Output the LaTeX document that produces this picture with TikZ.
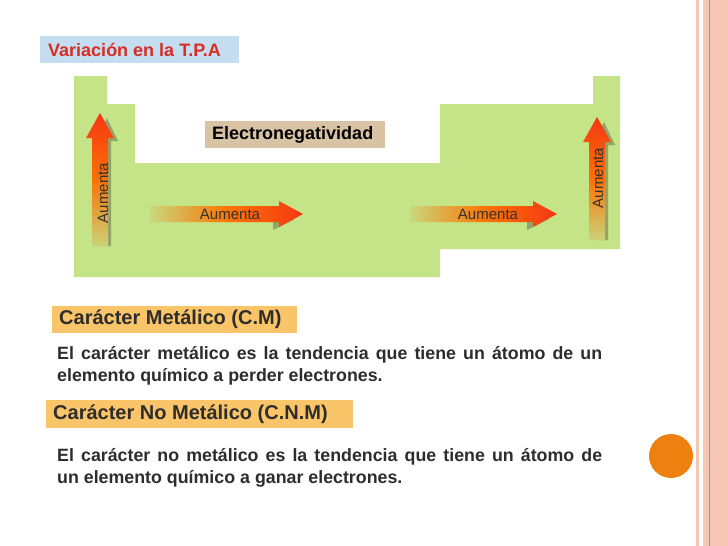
\documentclass[tikz,border=0pt]{standalone}
\usepackage{fontspec}
\setmainfont{Liberation Sans}
\usetikzlibrary{shadings}
\definecolor{tgreen}{RGB}{197,227,135}
\definecolor{tan}{RGB}{217,195,165}
\definecolor{tblue}{RGB}{197,221,240}
\definecolor{torange}{RGB}{250,196,105}
\definecolor{tpink}{RGB}{245,198,180}
\definecolor{tline}{RGB}{236,130,60}
\definecolor{tcirc}{RGB}{238,128,16}
\definecolor{ttxt}{RGB}{45,45,45}
\definecolor{tred}{RGB}{215,45,35}
\definecolor{ayel}{RGB}{205,200,110}
\definecolor{ared}{RGB}{245,55,20}
\tikzset{
  lbl/.style={font=\bfseries\fontsize{18}{20}\selectfont, inner sep=0pt, anchor=west},
  para/.style={font=\bfseries\fontsize{17.8}{22}\selectfont, text=ttxt, text width=545pt, align=justify, inner sep=0pt, anchor=north west},
  arrtxt/.style={font=\fontsize{15}{16}\selectfont, text=black!80, inner sep=0pt}
}
\begin{document}
\begin{tikzpicture}[x=1pt,y=-1pt]
\useasboundingbox (0,0) rectangle (728,546);
\fill[white] (0,0) rectangle (728,546);
% right border
\fill[tpink] (696,0) rectangle (699,546);
\fill[tpink] (703,0) rectangle (728,546);
\draw[tline, line width=0.8pt] (709,0) -- (709,546);
\fill[tcirc] (671,456) circle (22);
% table
\fill[tgreen] (74,76) -- (107,76) -- (107,104) -- (135,104) -- (135,163) -- (440,163) -- (440,104) -- (593,104) -- (593,76) -- (620,76) -- (620,249) -- (440,249) -- (440,277) -- (74,277) -- cycle;
\node[fill=tan, minimum width=180pt, minimum height=27pt, anchor=north west, inner sep=0pt] (en) at (205,121) {};
\node[lbl, text=black] at (212,134.5) {Electronegatividad};
% vertical arrows (shadow then arrow)
\foreach \x/\yb/\yt/\nm in {100/246/113/l, 597/240/117/r}{
  \fill[black!25!tgreen!85!gray] (\x+3,\yb) -- (\x+3,\yt+28) -- (\x-4,\yt+28) -- (\x+7,\yt+5) -- (\x+18,\yt+28) -- (\x+11,\yt+28) -- (\x+11,\yb) -- cycle;
  \shade[top color=ared, bottom color=ayel!60!tgreen, middle color=orange!80!ared] (\x-8,\yb) -- (\x-8,\yt+25) -- (\x-14,\yt+25) -- (\x,\yt) -- (\x+14,\yt+25) -- (\x+8,\yt+25) -- (\x+8,\yb) -- cycle;
}
\node[arrtxt, rotate=90] (al) at (103,193) {Aumenta};
\node[arrtxt, rotate=90] (ar) at (598,178) {Aumenta};
% horizontal arrows
\foreach \xa/\xb in {150/303, 410/557}{
  \fill[black!25!tgreen!85!gray] (\xa+10,219) -- (\xb-30,219) -- (\xb-30,230) -- (\xb-8,219) -- (\xb-18,211) -- cycle;
  \shade[left color=ayel!40!tgreen, right color=ared, middle color=orange!85!ared] (\xa,206) -- (\xb-24,206) -- (\xb-24,201) -- (\xb,214) -- (\xb-24,227) -- (\xb-24,222) -- (\xa,222) -- cycle;
}
\node[arrtxt] (h1) at (230,214) {Aumenta};
\node[arrtxt] (h2) at (488,214) {Aumenta};
% title boxes
\node[fill=tblue, minimum width=199pt, minimum height=27pt, anchor=north west, inner sep=0pt] (tb) at (40,36) {};
\node[lbl, text=tred] at (48,49.5) {Variación en la T.P.A};
\node[fill=torange, minimum width=245pt, minimum height=27pt, anchor=north west, inner sep=0pt] (cm) at (52,306) {};
\node[lbl, text=ttxt, font=\bfseries\fontsize{20}{22}\selectfont] at (59,319.5) {Carácter Metálico (C.M)};
\node[para] (p1) at (57,346) {El carácter metálico es la tendencia que tiene un átomo de un elemento químico a perder electrones.};
\node[fill=torange, minimum width=307pt, minimum height=28pt, anchor=north west, inner sep=0pt] (cnm) at (46,400) {};
\node[lbl, text=ttxt, font=\bfseries\fontsize{20}{22}\selectfont] at (53,414) {Carácter No Metálico (C.N.M)};
\node[para] (p2) at (57,448) {El carácter no metálico es la tendencia que tiene un átomo de\linebreak un elemento químico a ganar electrones.};
\end{tikzpicture}
\end{document}
